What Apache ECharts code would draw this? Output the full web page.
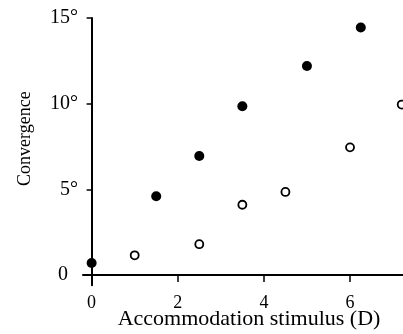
<!DOCTYPE html>
<html>
<head>
<meta charset="utf-8">
<script src="https://cdn.jsdelivr.net/npm/echarts@6/dist/echarts.min.js"></script>
<style>
  html, body { margin: 0; padding: 0; background: #fff; }
  #chart { width: 403px; height: 334px; }
</style>
</head>
<body>
<div id="chart"></div>
<script>
// Convergence (deg) against accommodation stimulus (D)
const filledX = [0, 1.5, 2.5, 3.5, 5, 6.25];
const filledY = [0.7, 4.6, 6.95, 9.85, 12.2, 14.45];
const openX = [1, 2.5, 3.5, 4.5, 6, 7.2];
const openY = [1.15, 1.8, 4.1, 4.85, 7.45, 9.95];

const xTicks = [0, 2, 4, 6];
const yTicks = [0, 5, 10, 15];
// the zero label has no degree sign; an en space keeps its digit in the same column
const yTickLabels = ['0\u2002', '5°', '10°', '15°'];

const pairs = (xs, ys) => xs.map((x, i) => [x, ys[i]]);
const serif = '"Liberation Serif", "Times New Roman", serif';
const ink = '#000';

const chart = echarts.init(document.getElementById('chart'), null, { renderer: 'canvas' });
chart.setOption({
  animation: false,
  backgroundColor: '#fff',
  grid: { left: 83, right: 0, top: 18, bottom: 48.7, containLabel: false, outerBoundsMode: 'none' },
  xAxis: {
    type: 'value',
    min: -0.2,
    max: 7.23,
    name: 'Accommodation stimulus (D)',
    nameLocation: 'middle',
    nameGap: 23,
    nameMoveOverlap: false,
    nameTextStyle: { fontFamily: serif, fontSize: 22, color: ink, padding: [0, 0, 0, 12] },
    axisLine: { onZero: true, lineStyle: { color: ink, width: 2 } },
    axisTick: { show: true, length: 7, customValues: xTicks, lineStyle: { color: ink, width: 1.5 } },
    axisLabel: { customValues: xTicks, margin: 9, fontFamily: serif, fontSize: 18, color: ink },
    splitLine: { show: false }
  },
  yAxis: {
    type: 'value',
    min: -0.6,
    max: 15,
    name: 'Convergence',
    nameLocation: 'middle',
    nameGap: 49,
    nameRotate: 90,
    nameMoveOverlap: false,
    nameTextStyle: { fontFamily: serif, fontSize: 18, color: ink, padding: [0, 0, 0, 26] },
    axisLine: { onZero: true, lineStyle: { color: ink, width: 2 } },
    axisTick: { show: true, length: 5, customValues: yTicks, lineStyle: { color: ink, width: 1.5 } },
    axisLabel: {
      customValues: yTicks,
      margin: 5,
      fontFamily: serif,
      fontSize: 20,
      color: ink,
      formatter: v => yTickLabels[yTicks.indexOf(v)]
    },
    splitLine: { show: false }
  },
  series: [
    {
      name: 'filled',
      type: 'scatter',
      data: pairs(filledX, filledY),
      symbol: 'circle',
      symbolSize: 10,
      itemStyle: { color: '#000', opacity: 1 }
    },
    {
      name: 'open',
      type: 'scatter',
      clip: false,
      data: pairs(openX, openY),
      symbol: 'circle',
      symbolSize: 8,
      itemStyle: { color: '#fff', borderColor: '#000', borderWidth: 1.8, opacity: 1 }
    }
  ]
});
</script>
</body>
</html>
